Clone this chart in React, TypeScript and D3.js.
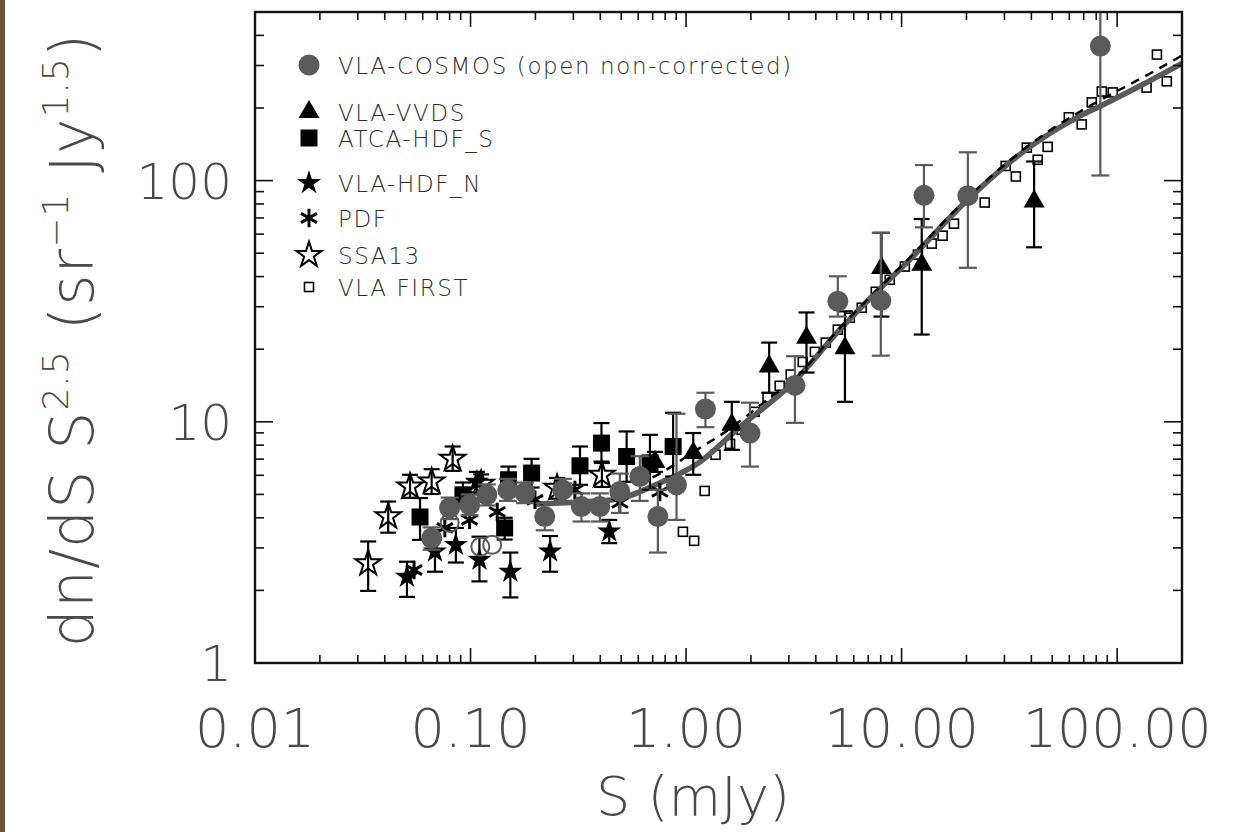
import * as d3 from 'd3';

// rows: [S (mJy), dN/dS S^2.5, lower, upper]
const cosmos = [
  [0.066, 3.29, 2.95, 3.65],
  [0.08, 4.4, 3.95, 4.85],
  [0.099, 4.53, 4.1, 5.0],
  [0.119, 4.98, 4.5, 5.5],
  [0.149, 5.22, 4.7, 5.8],
  [0.179, 5.08, 4.6, 5.6],
  [0.221, 4.05, 3.55, 4.6],
  [0.268, 5.22, 4.7, 5.8],
  [0.327, 4.45, 3.86, 5.05],
  [0.398, 4.45, 3.86, 5.05],
  [0.493, 5.14, 4.19, 6.1],
  [0.61, 5.93, 4.7, 7.2],
  [0.74, 4.05, 2.87, 5.22],
  [0.903, 5.48, 3.92, 10.8],
  [1.23, 11.3, 9.5, 13.2],
  [1.98, 8.98, 6.52, 12.0],
  [3.2, 14.15, 9.9, 18.7],
  [5.06, 31.6, 27.3, 40.1],
  [8.01, 31.8, 18.8, 60.8],
  [12.7, 86.9, 64, 116],
  [20.3, 86.6, 43.5, 131],
  [83.6, 361, 105, 700],
];

// non-corrected COSMOS counts (open circles)
const cosmosOpen = [
  [0.08, 3.81],
  [0.111, 3.03],
  [0.126, 3.09],
];

const vvds = [
  [0.717, 6.82, 6.2, 7.5],
  [1.08, 7.42, 6.03, 8.98],
  [1.63, 9.72, 7.65, 12.1],
  [2.43, 16.96, 13.2, 21.3],
  [3.62, 22.3, 16.0, 28.4],
  [5.46, 20.2, 12.1, 28.7],
  [8.07, 43.4, 27.3, 60.7],
  [12.4, 44.8, 23.0, 69.3],
  [41.2, 82.0, 52.9, 120],
];

const atca = [
  [0.0583, 4.03, 3.24, 4.83],
  [0.0922, 4.98, 4.4, 5.6],
  [0.144, 3.63, 3.25, 4.0],
  [0.15, 5.75, 5.08, 6.52],
  [0.192, 6.13, 5.34, 7.02],
  [0.322, 6.57, 5.48, 7.9],
  [0.405, 8.16, 6.84, 9.88],
  [0.53, 7.18, 5.64, 9.12],
  [0.68, 6.76, 5.22, 8.83],
  [0.871, 7.9, 5.93, 10.9],
];

const hdfn = [
  [0.0507, 2.28, 1.88, 2.63],
  [0.0684, 2.9, 2.39, 3.56],
  [0.0855, 3.09, 2.61, 3.63],
  [0.107, 5.65, 5.1, 6.2],
  [0.11, 2.68, 2.18, 3.34],
  [0.153, 2.39, 1.87, 2.87],
  [0.234, 2.9, 2.39, 3.36],
  [0.44, 3.51, 3.14, 3.92],
];

const pdf = [
  [0.0547, 2.43],
  [0.076, 3.63],
  [0.099, 3.92],
  [0.133, 4.23],
  [0.199, 4.75],
  [0.305, 5.22],
  [0.493, 4.61],
  [0.756, 5.12],
];

const ssa13 = [
  [0.0335, 2.59, 1.99, 3.19],
  [0.0415, 4.05, 3.47, 4.67],
  [0.0524, 5.39, 4.84, 6.03],
  [0.066, 5.65, 5.02, 6.36],
  [0.0826, 7.02, 6.26, 7.9],
  [0.112, 5.53, 5.0, 6.05],
  [0.252, 5.32, 4.8, 5.85],
  [0.407, 6.03, 5.37, 6.75],
];

const first = [
  [0.967, 3.5], [1.09, 3.21], [1.22, 5.17], [1.37, 7.3], [1.6, 8.1],
  [1.81, 9.27], [2.08, 11.0], [2.39, 12.6], [2.72, 14.1], [3.06, 15.7],
  [3.48, 17.7], [3.96, 19.5], [4.45, 21.3], [5.06, 24.1], [5.75, 27.0],
  [6.53, 29.7], [7.59, 34.6], [8.81, 38.8], [10.35, 44.0], [11.9, 49.3],
  [13.8, 54.8], [15.5, 59.1], [17.5, 66.3], [24.3, 81.1], [30.4, 115],
  [33.9, 104], [38.1, 137], [42.8, 122], [47.6, 138], [59.7, 183],
  [68.5, 171], [76.3, 211], [84.9, 234], [95.4, 232], [137, 243],
  [153, 333], [170, 258],
];

const fitSolid = [
  [0.2, 4.55], [0.26, 4.61], [0.458, 4.75], [0.755, 5.58], [1.16, 6.82],
  [1.78, 9.53], [3.13, 14.5], [5.17, 24.1], [6.9, 31.5], [10.9, 47.0],
  [20.3, 83.4], [38.1, 135], [67.1, 185], [83.0, 203], [137, 255], [200, 306],
];

const fitDashed = [
  [0.6, 5.5], [0.755, 6.1], [1.16, 7.8], [1.43, 8.75], [1.87, 10.4],
  [2.45, 12.6], [3.13, 14.8], [5.17, 24.5], [10.9, 47.9], [20.3, 85.0],
  [38.1, 138], [67.1, 193], [83.0, 215], [137, 273], [200, 330],
];

const xTickValues = [0.01, 0.1, 1, 10, 100];
const xTickLabels = ['0.01', '0.10', '1.00', '10.00', '100.00'];
const yTickValues = [1, 10, 100];
const yTickLabels = ['1', '10', '100'];

const legendLabels = [
  'VLA-COSMOS (open non-corrected)',
  'VLA-VVDS',
  'ATCA-HDF_S',
  'VLA-HDF_N',
  'PDF',
  'SSA13',
  'VLA FIRST',
];
const legendKinds = ['circle', 'triangle', 'square', 'star', 'asterisk', 'openstar', 'first'];

const W = 1236;
const H = 832;
const L = 255;
const R = 1182;
const T = 12;
const B = 663;
const GRAY = '#5a5a5a';
const TEXT = '#4a4a4a';

const x = d3.scaleLog().domain([0.01, 200]).range([L, R]);
const y = d3.scaleLog().domain([1, 500]).range([B, T]);

const xMinor = d3.range(-2, 3)
  .flatMap((e) => d3.range(2, 10).map((m) => m * 10 ** e))
  .filter((v) => v < 200);
const yMinor = d3.range(0, 3)
  .flatMap((e) => d3.range(2, 10).map((m) => m * 10 ** e))
  .filter((v) => v < 500);

const symPath = (type, size) => d3.symbol().type(type).size(size)();

function Marker({ kind, cx, cy }) {
  const t = `translate(${cx},${cy})`;
  switch (kind) {
    case 'circle':
      return <circle cx={cx} cy={cy} r={10.5} fill={GRAY} />;
    case 'opencircle':
      return <circle cx={cx} cy={cy} r={9} fill="none" stroke={GRAY} strokeWidth={2} />;
    case 'triangle':
      return <path transform={t} d={symPath(d3.symbolTriangle, 190)} fill="#000" />;
    case 'square':
      return <rect x={cx - 8.5} y={cy - 8.5} width={17} height={17} fill="#000" />;
    case 'star':
      return <path transform={t} d={symPath(d3.symbolStar, 180)} fill="#000" />;
    case 'openstar':
      return <path transform={t} d={symPath(d3.symbolStar, 200)} fill="none" stroke="#000" strokeWidth={2} />;
    case 'asterisk':
      return <path transform={t} d={symPath(d3.symbolAsterisk, 240)} fill="none" stroke="#000" strokeWidth={3} />;
    case 'first':
      return <rect x={cx - 4.5} y={cy - 4.5} width={9} height={9} fill="#fff" stroke="#000" strokeWidth={1.6} />;
    default:
      return null;
  }
}

function ErrorBar({ d, color, cap }) {
  const cx = x(d[0]);
  const y1 = y(d[2]);
  const y2 = y(d[3]);
  return (
    <g stroke={color} strokeWidth={2.2}>
      <line x1={cx} x2={cx} y1={y1} y2={y2} />
      <line x1={cx - cap} x2={cx + cap} y1={y1} y2={y1} />
      <line x1={cx - cap} x2={cx + cap} y1={y2} y2={y2} />
    </g>
  );
}

function Series({ data, kind, barColor = '#000', cap = 8 }) {
  return (
    <g>
      {data.filter((d) => d.length > 2).map((d, i) => (
        <ErrorBar key={`e${i}`} d={d} color={barColor} cap={cap} />
      ))}
      {data.map((d, i) => (
        <Marker key={`m${i}`} kind={kind} cx={x(d[0])} cy={y(d[1])} />
      ))}
    </g>
  );
}

export default function App() {
  const line = d3.line()
    .x((d) => x(d[0]))
    .y((d) => y(d[1]))
    .curve(d3.curveMonotoneX);

  const legendRowsY = [65, 112, 138, 183, 218, 255, 287];

  return (
    <svg
      width={W}
      height={H}
      style={{ position: 'absolute', left: 0, top: 0 }}
      fontFamily="'DejaVu Sans', sans-serif"
    >
      <rect width={W} height={H} fill="#fff" />
      <rect x={0} y={0} width={5} height={H} fill="#6e5238" />
      <defs>
        <clipPath id="plot-area">
          <rect x={L} y={T} width={R - L} height={B - T} />
        </clipPath>
      </defs>

      <g clipPath="url(#plot-area)">
        <Series data={first} kind="first" />
        <path d={line(fitSolid)} fill="none" stroke={GRAY} strokeWidth={5.5} />
        <path d={line(fitDashed)} fill="none" stroke="#000" strokeWidth={2.5} strokeDasharray="9 7" />
        <Series data={ssa13} kind="openstar" />
        <Series data={hdfn} kind="star" />
        <Series data={pdf} kind="asterisk" />
        <Series data={atca} kind="square" />
        <Series data={vvds} kind="triangle" />
        <Series data={cosmos} kind="circle" barColor={GRAY} cap={9} />
        <Series data={cosmosOpen} kind="opencircle" />
      </g>

      {/* frame and ticks */}
      <g stroke="#111" strokeWidth={1.6}>
        {xTickValues.map((v) => (
          <g key={`xM${v}`}>
            <line x1={x(v)} x2={x(v)} y1={B} y2={B - 15} />
            <line x1={x(v)} x2={x(v)} y1={T} y2={T + 15} />
          </g>
        ))}
        {xMinor.map((v) => (
          <g key={`xm${v}`}>
            <line x1={x(v)} x2={x(v)} y1={B} y2={B - 8} />
            <line x1={x(v)} x2={x(v)} y1={T} y2={T + 8} />
          </g>
        ))}
        {yTickValues.map((v) => (
          <g key={`yM${v}`}>
            <line x1={L} x2={L + 18} y1={y(v)} y2={y(v)} />
            <line x1={R} x2={R - 18} y1={y(v)} y2={y(v)} />
          </g>
        ))}
        {yMinor.map((v) => (
          <g key={`ym${v}`}>
            <line x1={L} x2={L + 9} y1={y(v)} y2={y(v)} />
            <line x1={R} x2={R - 9} y1={y(v)} y2={y(v)} />
          </g>
        ))}
      </g>
      <rect x={L} y={T} width={R - L} height={B - T} fill="none" stroke="#111" strokeWidth={2.4} />

      {/* tick labels */}
      <g fill={TEXT} fontSize={54} textAnchor="middle" fontWeight={300}>
        {xTickValues.map((v, i) => (
          <text key={`xl${v}`} x={x(v)} y={747}>{xTickLabels[i]}</text>
        ))}
      </g>
      <g fill={TEXT} fontSize={50} textAnchor="end" fontWeight={300}>
        {yTickValues.map((v, i) => (
          <text key={`yl${v}`} x={232} y={y(v) + 18}>{yTickLabels[i]}</text>
        ))}
      </g>

      {/* axis titles */}
      <text x={693} y={815} fill={TEXT} fontSize={54} textAnchor="middle" fontWeight={300}>
        S (mJy)
      </text>
      <text
        transform="translate(93,340) rotate(-90)"
        fill={TEXT}
        fontSize={60}
        textAnchor="middle"
        fontWeight={300}
        letterSpacing={1}
      >
        <tspan>dn/dS S</tspan>
        <tspan fontSize={36} dy={-25}>2.5</tspan>
        <tspan dy={25}> (sr</tspan>
        <tspan fontSize={36} dy={-25}>−1</tspan>
        <tspan dy={25}> Jy</tspan>
        <tspan fontSize={36} dy={-25}>1.5</tspan>
        <tspan dy={25}>)</tspan>
      </text>

      {/* legend */}
      <g>
        {legendLabels.map((label, i) => (
          <g key={label}>
            <Marker kind={legendKinds[i]} cx={309} cy={legendRowsY[i]} />
            <text
              x={338}
              y={legendRowsY[i] + 8.5}
              fontSize={23}
              letterSpacing={1.6}
              fontWeight={300}
              fill="#2e2e2e"
            >
              {label}
            </text>
          </g>
        ))}
      </g>
    </svg>
  );
}
